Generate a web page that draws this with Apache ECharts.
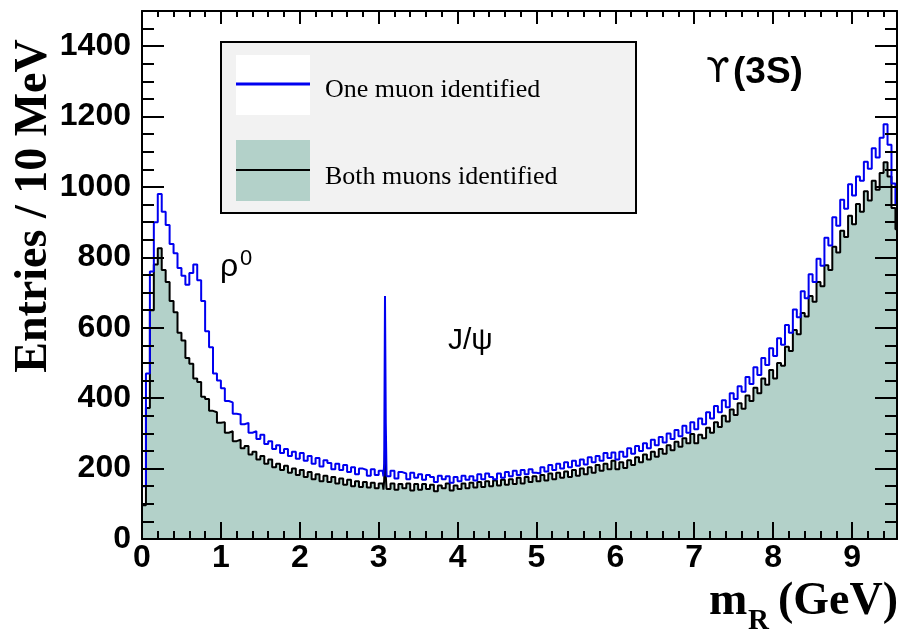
<!DOCTYPE html>
<html>
<head>
<meta charset="utf-8">
<script src="https://cdn.jsdelivr.net/npm/echarts@6/dist/echarts.min.js"></script>
<style>
  html, body { margin: 0; padding: 0; background: #fff; }
  #chart { width: 902px; height: 634px; }
</style>
</head>
<body>
<div id="chart"></div>
<script>
// m_R histogram, 50 MeV bins; left edge of bin k is k * binWidth (GeV)
const binWidth = 0.05
const massMax = 9.57

const oneMuon = [
  150, 470, 760, 900, 980, 930, 892, 838, 812, 770,
  748, 722, 756, 780, 735, 676, 590, 545, 470, 450,
  428, 392, 388, 356, 354, 326, 330, 302, 306, 284,
  296, 270, 278, 256, 266, 244, 256, 236, 248, 228,
  244, 222, 236, 214, 230, 206, 224, 216, 198, 214,
  196, 210, 190, 204, 184, 200, 196, 180, 198, 182,
  194, 186, 178, 194, 172, 190, 186, 170, 188, 174,
  184, 168, 182, 176, 162, 180, 170, 178, 160, 176,
  164, 180, 168, 178, 166, 184, 170, 186, 176, 170,
  186, 174, 190, 178, 194, 182, 196, 184, 198, 188,
  186, 204, 192, 210, 196, 214, 200, 218, 204, 222,
  208, 226, 212, 232, 218, 236, 222, 244, 230, 246,
  226, 248, 234, 258, 242, 264, 250, 272, 258, 282,
  266, 290, 274, 300, 284, 310, 292, 322, 302, 332,
  312, 342, 326, 360, 342, 378, 360, 394, 374, 414,
  398, 434, 418, 460, 440, 488, 466, 514, 494, 542,
  520, 570, 552, 608, 586, 652, 630, 704, 684, 752,
  730, 796, 776, 856, 834, 914, 890, 964, 938, 1008,
  976, 1030, 1018, 1072, 1052, 1110, 1084, 1140, 1178, 1120,
  1010, 950
]

const bothMuons = [
  96, 372, 650, 780, 826, 764, 730, 676, 644, 586,
  564, 514, 498, 456, 446, 404, 398, 364, 360, 330,
  332, 302, 306, 278, 282, 258, 264, 240, 248, 226,
  236, 214, 226, 204, 214, 196, 208, 188, 200, 182,
  196, 176, 190, 170, 184, 164, 180, 162, 176, 158,
  172, 154, 168, 150, 164, 148, 162, 146, 160, 144,
  158, 150, 142, 158, 140, 156, 144, 158, 138, 156,
  140, 156, 142, 154, 136, 152, 144, 158, 138, 152,
  142, 158, 144, 160, 146, 162, 148, 164, 150, 166,
  152, 168, 154, 170, 156, 174, 158, 176, 162, 178,
  164, 182, 166, 186, 170, 188, 174, 192, 176, 196,
  180, 200, 184, 204, 188, 210, 194, 214, 198, 222,
  198, 218, 202, 224, 210, 232, 218, 240, 226, 248,
  234, 256, 242, 266, 252, 276, 262, 286, 272, 298,
  272, 296, 286, 316, 302, 332, 318, 350, 334, 368,
  352, 386, 370, 408, 392, 430, 414, 456, 438, 480,
  456, 500, 492, 546, 534, 594, 582, 642, 632, 690,
  674, 730, 718, 778, 764, 830, 814, 876, 858, 918,
  894, 952, 930, 988, 962, 1018, 992, 1040, 1070, 1030,
  940, 880
]

// J/psi region (bin 61, 3.05 - 3.10 GeV) split into 10 MeV bins
const jpsiBin = 61
const jpsiEdges = [3.05, 3.06, 3.07, 3.08, 3.09]
const jpsiOne = [196, 178, 214, 690, 330]
const jpsiBoth = [156, 140, 168, 256, 180]

function toSteps(values, jpsiValues) {
  const pts = [[0, 0]]
  values.forEach((v, k) => {
    if (k === jpsiBin) {
      jpsiEdges.forEach((e, i) => pts.push([e, jpsiValues[i]]))
    } else {
      pts.push([+(k * binWidth).toFixed(2), v])
    }
  })
  pts.push([+(values.length * binWidth).toFixed(2), values[values.length - 1]])
  return pts
}

const black = '#000'
const tickFont = { color: black, fontFamily: 'Liberation Sans', fontWeight: 'bold', fontSize: 32 }

function xAx(position, interval, len, withLine, withLabel) {
  return {
    type: 'value', position, min: 0, max: massMax, interval, z: 10,
    splitLine: { show: false },
    axisLine: { show: withLine, onZero: false, lineStyle: { color: black, width: 2 } },
    axisTick: { show: true, inside: true, length: len, lineStyle: { color: black, width: 2 } },
    axisLabel: withLabel
      ? { show: true, margin: 3, showMaxLabel: false, formatter: v => String(v), ...tickFont }
      : { show: false }
  }
}

function yAx(position, interval, len, withLine, withLabel) {
  return {
    type: 'value', position, min: 0, max: 1500, interval, z: 10,
    splitLine: { show: false },
    axisLine: { show: withLine, onZero: false, lineStyle: { color: black, width: 2 } },
    axisTick: { show: true, inside: true, length: len, lineStyle: { color: black, width: 2 } },
    axisLabel: withLabel
      ? { show: true, margin: 11, showMaxLabel: false, formatter: v => String(v), ...tickFont }
      : { show: false }
  }
}

const chart = echarts.init(document.getElementById('chart'))

chart.setOption({
  animation: false,
  backgroundColor: '#fff',
  grid: { left: 142, right: 5, top: 11, bottom: 95, containLabel: false, outerBoundsMode: 'none' },
  xAxis: [
    xAx('bottom', 1, 17, true, true),
    xAx('bottom', 0.2, 8, false, false),
    xAx('top', 1, 13, true, false),
    xAx('top', 0.2, 6, false, false)
  ],
  yAxis: [
    yAx('left', 200, 22, true, true),
    yAx('left', 50, 12, false, false),
    yAx('right', 200, 22, true, false),
    yAx('right', 50, 12, false, false)
  ],
  series: [
    {
      name: 'Both muons identified',
      type: 'line',
      step: 'end',
      symbol: 'none',
      data: toSteps(bothMuons, jpsiBoth),
      lineStyle: { color: black, width: 2 },
      areaStyle: { color: '#b3d1c9', opacity: 1 },
      z: 2
    },
    {
      name: 'One muon identified',
      type: 'line',
      step: 'end',
      symbol: 'none',
      data: toSteps(oneMuon, jpsiOne),
      lineStyle: { color: '#0000f0', width: 2 },
      z: 3
    }
  ],
  graphic: [
    // legend box
    { type: 'rect', z: 100, shape: { x: 221, y: 42, width: 415, height: 171 },
      style: { fill: '#f2f2f2', stroke: black, lineWidth: 2 } },
    { type: 'rect', z: 101, shape: { x: 236, y: 55, width: 74, height: 60 }, style: { fill: '#fff' } },
    { type: 'line', z: 102, shape: { x1: 236, y1: 84, x2: 310, y2: 84 }, style: { stroke: '#0000f0', lineWidth: 3 } },
    { type: 'rect', z: 101, shape: { x: 236, y: 140, width: 74, height: 61 }, style: { fill: '#b3d1c9' } },
    { type: 'line', z: 102, shape: { x1: 236, y1: 170, x2: 310, y2: 170 }, style: { stroke: black, lineWidth: 2 } },
    { type: 'text', z: 102, style: { text: 'One muon identified', x: 325, y: 90, verticalAlign: 'middle',
      font: '26px "Liberation Serif"', fill: black } },
    { type: 'text', z: 102, style: { text: 'Both muons identified', x: 325, y: 177, verticalAlign: 'middle',
      font: '26px "Liberation Serif"', fill: black } },
    // labels in the plot
    { type: 'text', z: 100, style: { text: 'ϒ', x: 706, y: 73, verticalAlign: 'middle',
      font: '34px "DejaVu Sans"', fill: black } },
    { type: 'text', z: 100, style: { text: '(3S)', x: 733, y: 73, verticalAlign: 'middle',
      font: 'bold 37px "Liberation Sans"', fill: black } },
    { type: 'text', z: 100, style: { text: 'ρ', x: 220, y: 267, verticalAlign: 'middle',
      font: '32px "Liberation Sans"', fill: black } },
    { type: 'text', z: 100, style: { text: '0', x: 240, y: 259, verticalAlign: 'middle',
      font: '22px "Liberation Sans"', fill: black } },
    { type: 'text', z: 100, style: { text: 'J/ψ', x: 448, y: 341, verticalAlign: 'middle',
      font: '30px "Liberation Sans"', fill: black } },
    // axis titles
    { type: 'text', z: 100, x: 34, y: 206, rotation: Math.PI / 2,
      style: { text: 'Entries / 10 MeV', x: 0, y: 0, align: 'center', verticalAlign: 'middle',
        font: 'bold 46px "Liberation Serif"', fill: black } },
    { type: 'text', z: 100, style: { text: 'm', x: 709, y: 602, verticalAlign: 'middle',
      font: 'bold 46px "Liberation Serif"', fill: black } },
    { type: 'text', z: 100, style: { text: 'R', x: 748, y: 622, verticalAlign: 'middle',
      font: 'bold 29px "Liberation Serif"', fill: black } },
    { type: 'text', z: 100, style: { text: '(GeV)', x: 898, y: 602, align: 'right', verticalAlign: 'middle',
      font: 'bold 46px "Liberation Serif"', fill: black } }
  ]
})
</script>
</body>
</html>
